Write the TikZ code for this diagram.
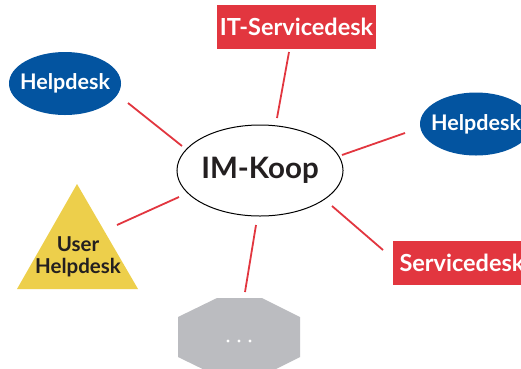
\documentclass[tikz,border=0pt]{standalone}
\usepackage{fontspec}
\setmainfont{Lato}
\usetikzlibrary{shapes.geometric}
\definecolor{cred}{HTML}{E2363F}
\definecolor{cblue}{HTML}{0354A0}
\definecolor{cyellow}{HTML}{EDCF4B}
\definecolor{cgray}{HTML}{BBBCC0}
\definecolor{ctext}{HTML}{231F20}
\begin{document}
\begin{tikzpicture}[x=1pt,y=-1pt,
  link/.style={draw=cred,line width=1.8pt},
  redbox/.style={fill=cred,text=white,font=\bfseries\fontsize{23.5}{26}\selectfont,inner sep=0pt,anchor=center},
  blueell/.style={ellipse,fill=cblue,minimum width=112pt,minimum height=63pt,inner sep=0pt},
  bluetext/.style={text=white,font=\bfseries\fontsize{21.5}{24}\selectfont,inner sep=0pt}]
\useasboundingbox (0,0) rectangle (521,368);
\clip (0,0) rectangle (521,368);
\fill[white] (0,0) rectangle (521,368);
% nodes
\node[redbox,minimum width=159pt,minimum height=44pt] (its) at (296.5,27) {IT-Servicedesk};
\node[blueell] (hl) at (65,83.5) {};
\node[bluetext] (hlt) at (hl) {Helpdesk};
\node[blueell] (hr) at (476,124) {};
\node[bluetext] (hrt) at (hr) {Helpdesk};
\node[ellipse,draw=black,line width=1pt,fill=white,minimum width=162pt,minimum height=91pt,inner sep=0pt,font=\bfseries\fontsize{29.5}{32}\selectfont,text=ctext] (im) at (260,170.5) {IM-Koop};
\fill[cyellow] (77,184) -- (138,289) -- (17,289) -- cycle;
\node[align=center,font=\bfseries\fontsize{20.5}{22.5}\selectfont,text=ctext,inner sep=0pt] (uh) at (78,257) {User\\Helpdesk};
\node[redbox,minimum width=138pt,minimum height=44pt] (sd) at (462,263) {Servicedesk};
\fill[cgray] (217,298) -- (262,298) -- (300,317) -- (300,357) -- (262,376) -- (217,376) -- (178,357) -- (178,317) -- cycle;
\node[inner sep=0pt] (oct) at (239,341) {};
\foreach \dx in {-11,0,11} \fill[white] ([xshift=\dx pt]oct) circle (1.6pt);
% connector ends
\coordinate (a1) at (289,52);  \coordinate (a2) at (277,118);
\coordinate (b1) at (128,103); \coordinate (b2) at (182,146);
\coordinate (c1) at (405,133); \coordinate (c2) at (342,155);
\coordinate (d1) at (179,197); \coordinate (d2) at (117,225);
\coordinate (e1) at (332,206); \coordinate (e2) at (383,250);
\coordinate (f1) at (256,225); \coordinate (f2) at (245,292);
\draw[link] (a1) -- (a2);
\draw[link] (b1) -- (b2);
\draw[link] (c1) -- (c2);
\draw[link] (d1) -- (d2);
\draw[link] (e1) -- (e2);
\draw[link] (f1) -- (f2);
\end{tikzpicture}
\end{document}
